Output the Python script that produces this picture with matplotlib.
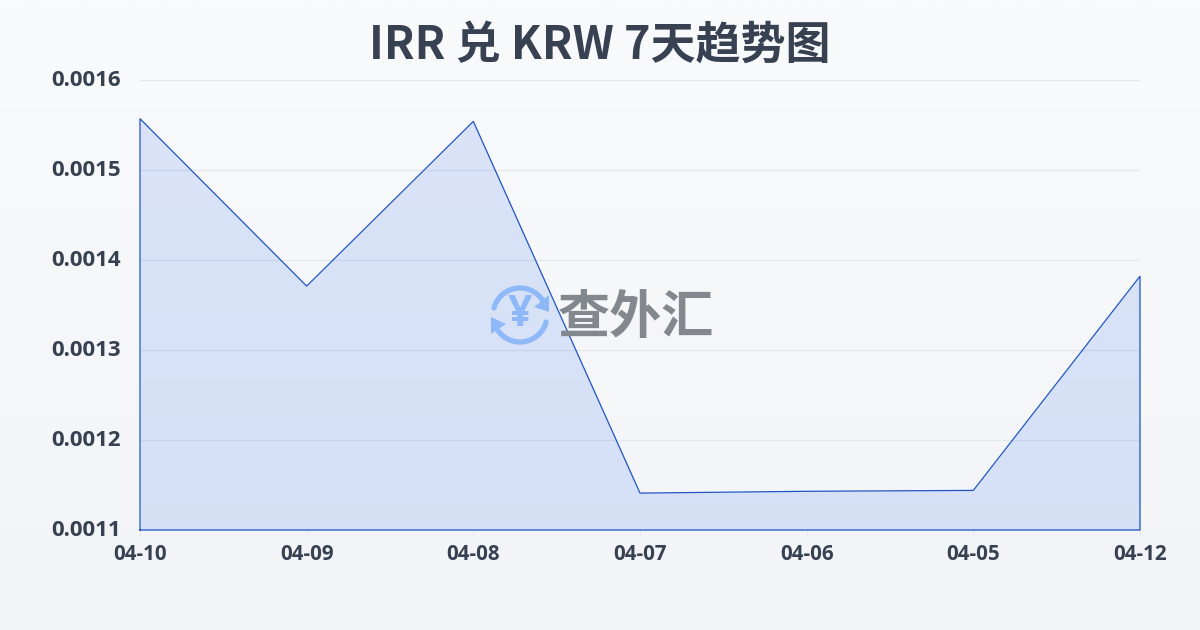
import numpy as np
import matplotlib
matplotlib.use("Agg")
import matplotlib.pyplot as plt
from matplotlib.patches import Arc, Polygon

dates = ["04-10", "04-09", "04-08", "04-07", "04-06", "04-05", "04-12"]
rates = [0.001557, 0.001371, 0.001554, 0.001141, 0.001143, 0.001144, 0.001382]
y_ticks = [0.0011, 0.0012, 0.0013, 0.0014, 0.0015, 0.0016]
title = "IRR 兑 KRW 7天趋势图"
brand = "查外汇"

LATIN = ["Open Sans", "DejaVu Sans"]
FONTS = ["Noto Sans CJK SC", "DejaVu Sans"]
plt.rcParams["font.family"] = FONTS
W, H = 1200, 630
fig = plt.figure(figsize=(W / 100, H / 100), dpi=100)

bg = fig.add_axes([0, 0, 1, 1], zorder=0)
grad = np.linspace(0, 1, 256).reshape(-1, 1, 1)
top = np.array([249, 250, 252]) / 255
bot = np.array([243, 244, 247]) / 255
bg.imshow(top + (bot - top) * grad, aspect="auto", extent=[0, W, H, 0])
bg.axis("off")

ax = fig.add_axes([140 / W, 1 - 530 / H, 1000 / W, 450 / H], zorder=1)
ax.patch.set_alpha(0)
x = np.arange(len(dates))
ax.fill_between(x, rates, y_ticks[0], color="#2563eb", alpha=0.14, lw=0, zorder=2)
ax.plot(np.r_[x[0], x, x[-1], x[0]],
        np.r_[y_ticks[0], rates, y_ticks[0], y_ticks[0]],
        color="#1f55c4", lw=0.9, zorder=3, clip_on=False)
ax.set_xlim(x[0], x[-1])
ax.set_ylim(y_ticks[0], y_ticks[-1])
ax.set_xticks(x, dates)
ax.set_yticks(y_ticks, [f"{v:.4f}" for v in y_ticks])
ax.grid(axis="y", color="#e4e7ec", lw=0.9, zorder=1)
ax.set_axisbelow(True)
for s in ax.spines.values():
    s.set_visible(False)
ax.tick_params(axis="x", length=4, width=0.8, color="#e4e7ec", pad=6)
ax.tick_params(axis="y", length=0, pad=14)
for lab in ax.get_xticklabels():
    lab.set(family=LATIN, fontweight="bold", fontsize=14.8, color="#374151")
for lab in ax.get_yticklabels():
    lab.set(family=LATIN, fontweight="bold", fontsize=16, color="#374151")
    lab.set_verticalalignment("center")

fig.text(600 / W, 1 - 46 / H, title, ha="center", va="center", fontsize=32.4,
         fontweight="bold", color="#374151", zorder=5)

# Watermark: pixel-space overlay
ov = fig.add_axes([0, 0, 1, 1], zorder=4)
ov.set_xlim(0, W)
ov.set_ylim(H, 0)
ov.axis("off")
c = "#8fb8f8"
cx, cy, d = 520, 315, 54
ov.add_patch(Arc((cx, cy), d, d, theta1=195, theta2=330, lw=3.8, color=c, capstyle="round"))
ov.add_patch(Arc((cx, cy), d, d, theta1=15, theta2=150, lw=3.8, color=c, capstyle="round"))
ov.add_patch(Polygon([(549, 295), (549, 312), (534, 307)], color=c, lw=0))
ov.add_patch(Polygon([(491, 317), (491, 334), (506, 324)], color=c, lw=0))
ov.text(cx, cy, "¥", ha="center", va="center", fontsize=31, fontweight="bold",
        family=LATIN, color=c)
ov.text(636, 317, brand, ha="center", va="center", fontsize=37.5, fontweight="bold", color="#83888f")

fig.savefig("out.png", dpi=100)
